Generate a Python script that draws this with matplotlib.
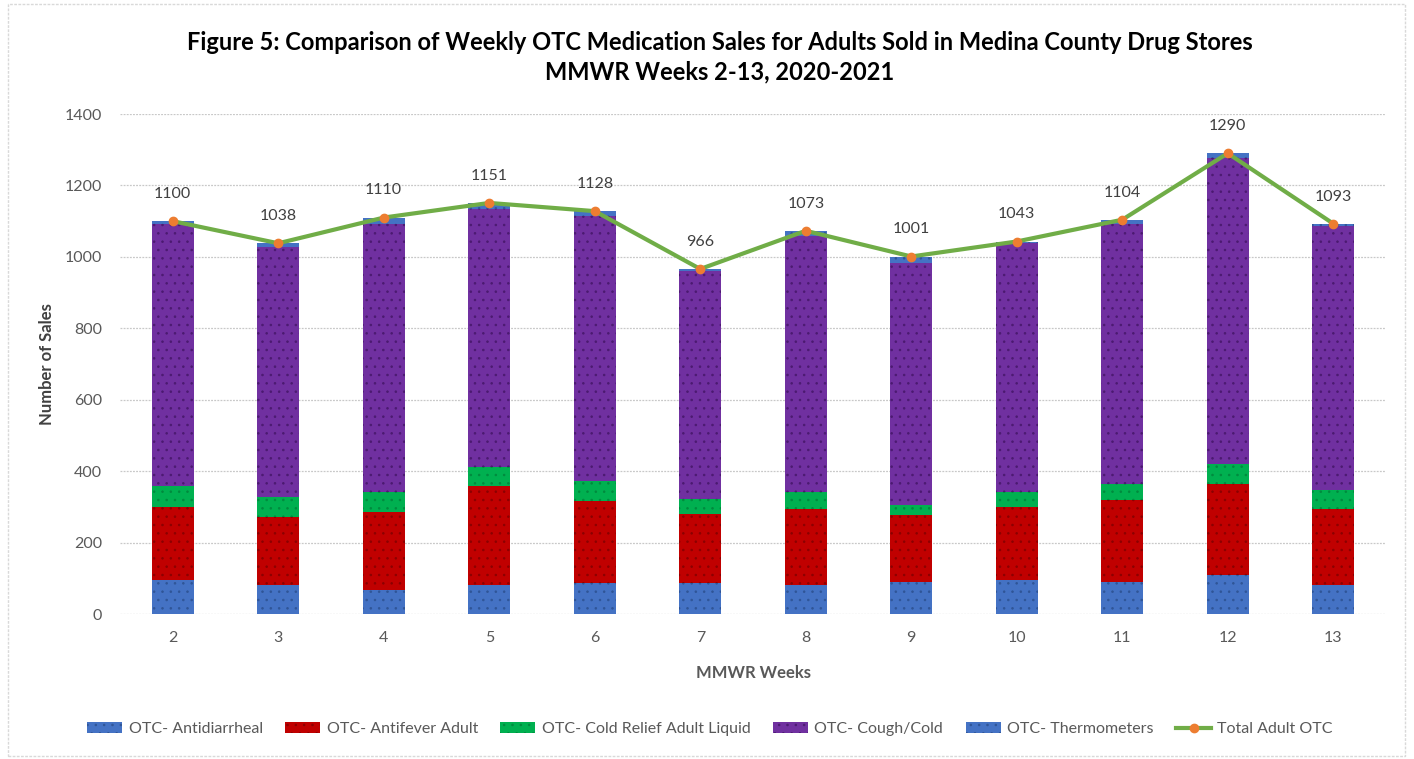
import matplotlib
matplotlib.use("Agg")
import matplotlib.pyplot as plt
import numpy as np
from matplotlib.lines import Line2D
from matplotlib.patches import Patch, Rectangle

plt.rcParams['font.family'] = ['Lato', 'DejaVu Sans']
plt.rcParams['hatch.linewidth'] = 0.6

weeks = ['2', '3', '4', '5', '6', '7', '8', '9', '10', '11', '12', '13']
antidiarrheal = [95, 81, 67, 81, 86, 86, 81, 90, 95, 90, 109, 81]
antifever = [204, 190, 219, 278, 231, 195, 214, 186, 205, 228, 255, 214]
cold_relief = [60, 56, 56, 52, 56, 41, 46, 28, 41, 46, 56, 51]
cough_cold = [732, 702, 749, 723, 742, 638, 718, 680, 697, 728, 858, 741]
thermometers = [9, 9, 19, 17, 13, 6, 14, 17, 5, 12, 12, 6]
total = [1100, 1038, 1110, 1151, 1128, 966, 1073, 1001, 1043, 1104, 1290, 1093]

series = [
    ("OTC- Antidiarrheal", antidiarrheal, "#4472C4", "#2F5597"),
    ("OTC- Antifever Adult", antifever, "#C00000", "#8B0000"),
    ("OTC- Cold Relief Adult Liquid", cold_relief, "#00B050", "#008A3E"),
    ("OTC- Cough/Cold", cough_cold, "#7030A0", "#4B1A70"),
    ("OTC- Thermometers", thermometers, "#4472C4", "#2F5597"),
]

fig = plt.figure(figsize=(14.14, 7.59), dpi=100)
ax = fig.add_axes([120/1414, 1-614/759, 1266/1414, 500/759])

x = np.arange(len(weeks))
bottom = np.zeros(len(weeks))
handles = []
for name, vals, fc, hc in series:
    ax.bar(x, vals, width=0.4, bottom=bottom, color=fc, edgecolor=hc,
           linewidth=0, hatch='..', zorder=2)
    bottom += np.array(vals)
    handles.append(Patch(facecolor=fc, edgecolor=hc, linewidth=0, hatch='..', label=name))

ax.plot(x, total, color="#70AD47", linewidth=3, marker='o', markersize=6,
        markerfacecolor="#ED7D31", markeredgecolor="#ED7D31", zorder=3)
handles.append(Line2D([0], [0], color="#70AD47", linewidth=3, marker='o', markersize=6,
                      markerfacecolor="#ED7D31", markeredgecolor="#ED7D31",
                      label="Total Adult OTC"))

for i, v in enumerate(total):
    ax.annotate(str(v), (x[i], v), xytext=(0, 19.5), textcoords='offset points',
                ha='center', va='center', fontsize=11.5, color='#404040',
                annotation_clip=False)

ax.set_xlim(-0.5, len(weeks) - 0.5)
ax.set_ylim(0, 1400)
ax.set_yticks(np.arange(0, 1401, 200))
ax.set_xticks(x)
ax.set_xticklabels(weeks)
ax.tick_params(axis='both', length=0, labelsize=11.5, labelcolor='#595959')
ax.tick_params(axis='y', pad=13)
ax.tick_params(axis='x', pad=12)
for s in ax.spines.values():
    s.set_visible(False)
ax.set_axisbelow(True)
ax.yaxis.grid(True, color='#C8C8C8', linestyle=(0, (1.5, 1)), linewidth=0.9)
ax.xaxis.grid(False)

ax.set_ylabel("Number of Sales", fontsize=12, fontweight='bold', color='#404040', labelpad=7)
ax.set_xlabel("MMWR Weeks", fontsize=12, fontweight='bold', color='#595959', labelpad=15)

fig.text(0.5092, 1-42/759, "Figure 5: Comparison of Weekly OTC Medication Sales for Adults Sold in Medina County Drug Stores",
         ha='center', va='center', fontsize=17, fontweight='bold', color='#000000')
fig.text(0.5092, 1-72/759, "MMWR Weeks 2-13, 2020-2021",
         ha='center', va='center', fontsize=17, fontweight='bold', color='#000000')

leg = fig.legend(handles=handles, loc='center', bbox_to_anchor=(710/1414, 1-729/759),
                 ncol=6, frameon=False, fontsize=11.5, handlelength=2.2, handletextpad=0.4,
                 columnspacing=1.4)
for t in leg.get_texts():
    t.set_color('#595959')

fig.patches.append(Rectangle((8/1414, 3/759), (1405-8)/1414, (755-3)/759,
                             transform=fig.transFigure, fill=False,
                             edgecolor='#D9D9D9', linewidth=1, linestyle=(0, (2, 1))))

fig.savefig("out.png", dpi=100)
